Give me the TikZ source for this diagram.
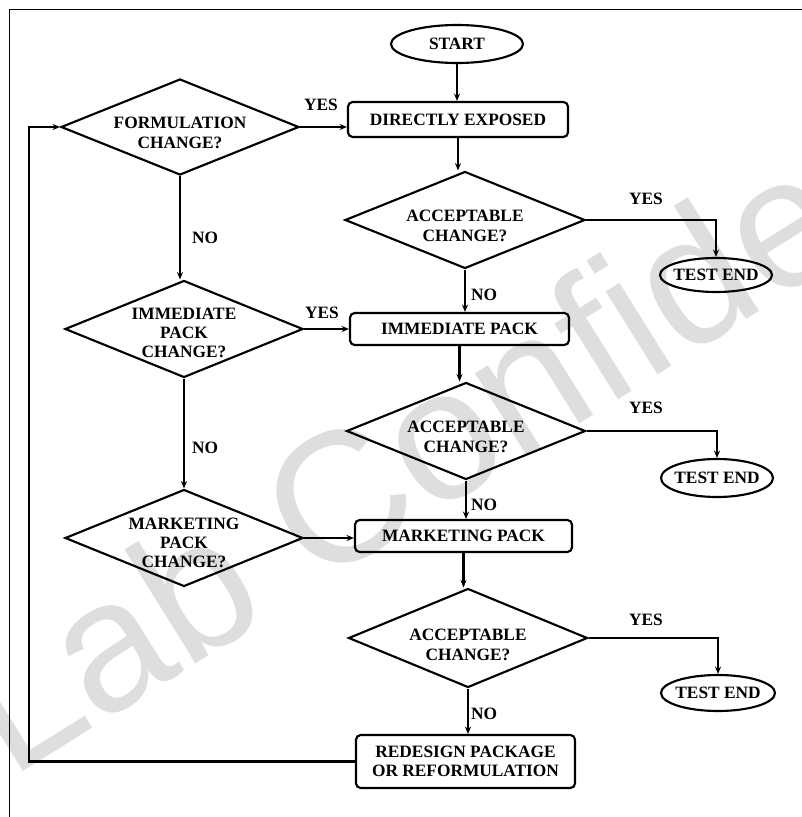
\documentclass[tikz,border=0pt]{standalone}
\usepackage{fontspec}
\newfontfamily\wmfont{Liberation Sans}
\newfontfamily\dfont{Liberation Serif}
\usetikzlibrary{shapes.geometric,arrows.meta}
\begin{document}
\begin{tikzpicture}[x=0.75pt,y=-0.75pt,
  every node/.style={font=\dfont\bfseries\fontsize{13}{14.5}\selectfont, align=center, inner sep=0pt},
  ln/.style={line width=1.6pt},
  arr/.style={ln, -{Stealth[length=5.5pt,width=4.5pt]}},
  boxn/.style={draw, ln, rounded corners=3.5pt},
  ell/.style={draw, ln, ellipse},
  dia/.style={draw, ln, diamond}
]
\useasboundingbox (0,0) rectangle (802,817);
% watermark
\begin{scope}
\clip (0,0) rectangle (802,817);
\node[anchor=base west, rotate=32, text=black!13, font=\wmfont\fontsize{139}{139}\selectfont] (wm) at (10,780) {Lab Confidential};
\end{scope}
% frame
\draw[line width=1.1pt] (802,9.5) -- (9.5,9.5) -- (9.5,817);

% main column
\node[ell, minimum width=99pt, minimum height=28.5pt] (start) at (457,44) {START};
\node[boxn, minimum width=165pt, minimum height=26.25pt] (direct) at (458,119.5) {DIRECTLY EXPOSED};
\node[dia, minimum width=180pt, minimum height=72.75pt] (acc1) at (465,220) {};
\node (acc1t) at (465,226) {ACCEPTABLE\\CHANGE?};
\node[boxn, minimum width=164.25pt, minimum height=24pt] (immp) at (459.5,329) {IMMEDIATE PACK};
\node[dia, minimum width=179.25pt, minimum height=72.75pt] (acc2) at (466,431) {};
\node (acc2t) at (466,437) {ACCEPTABLE\\CHANGE?};
\node[boxn, minimum width=162.75pt, minimum height=24pt] (mktp) at (463.5,536) {MARKETING PACK};
\node[dia, minimum width=179.25pt, minimum height=74.25pt] (acc3) at (468,638) {};
\node (acc3t) at (468,645) {ACCEPTABLE\\CHANGE?};
\node[boxn, minimum width=164.25pt, minimum height=39.75pt] (redes) at (465.5,761.5) {REDESIGN PACKAGE\\OR REFORMULATION};

% test ends
\node[ell, minimum width=84pt, minimum height=25.5pt] (te1) at (716,275) {};
\node (te1t) at (te1) {TEST END};
\node[ell, minimum width=84pt, minimum height=28.5pt] (te2) at (717,478) {};
\node (te2t) at (te2) {TEST END};
\node[ell, minimum width=85.5pt, minimum height=27pt] (te3) at (718,693) {};
\node (te3t) at (te3) {TEST END};

% left column
\node[dia, minimum width=178.5pt, minimum height=72pt] (formul) at (180,127) {};
\node (formult) at (180,133) {FORMULATION\\CHANGE?};
\node[dia, minimum width=178.5pt, minimum height=72.75pt] (imm) at (184,329) {};
\node (immt) at (184,333) {IMMEDIATE\\PACK\\CHANGE?};
\node[dia, minimum width=178.5pt, minimum height=72.75pt] (mkt) at (184,538) {};
\node (mktt) at (184,543) {MARKETING\\PACK\\CHANGE?};

\coordinate (loop) at (29,758);

% connectors
\draw[arr] (start.south) -- (start.south |- direct.north);
\draw[arr] (direct.south) -- (direct.south |- acc1.north);
\draw[arr] (acc1.south) -- (acc1.south |- immp.north);
\draw[arr] (immp.south) -- (immp.south |- acc2.north);
\draw[arr] (acc2.south) -- (acc2.south |- mktp.north);
\draw[arr] (mktp.south) -- (mktp.south |- acc3.north);
\draw[arr] (acc3.south) -- (acc3.south |- redes.north);

\draw[arr] (acc1.east) -| (te1.north);
\draw[arr] (acc2.east) -| (te2.north);
\draw[arr] (acc3.east) -| (te3.north);

\draw[arr] (formul.east) -- (formul.east -| direct.west);
\draw[arr] (imm.east) -- (imm.east -| immp.west);
\draw[arr] (mkt.east) -- (mkt.east -| mktp.west);

\draw[arr] (formul.south) -- (formul.south |- imm.north);
\draw[arr] (imm.south) -- (imm.south |- mkt.north);

\draw[arr] (redes.west) -- (redes.west -| loop) |- (formul.west);

% labels
\node (y1) at (321,105) {YES};
\node (y2) at (322,313) {YES};
\node (y3) at (646,199) {YES};
\node (y4) at (646,408) {YES};
\node (y5) at (646,620) {YES};
\node (n1) at (205,238) {NO};
\node (n2) at (205,448) {NO};
\node (n3) at (484,295) {NO};
\node (n4) at (484,505) {NO};
\node (n5) at (484,714) {NO};
\end{tikzpicture}
\end{document}
